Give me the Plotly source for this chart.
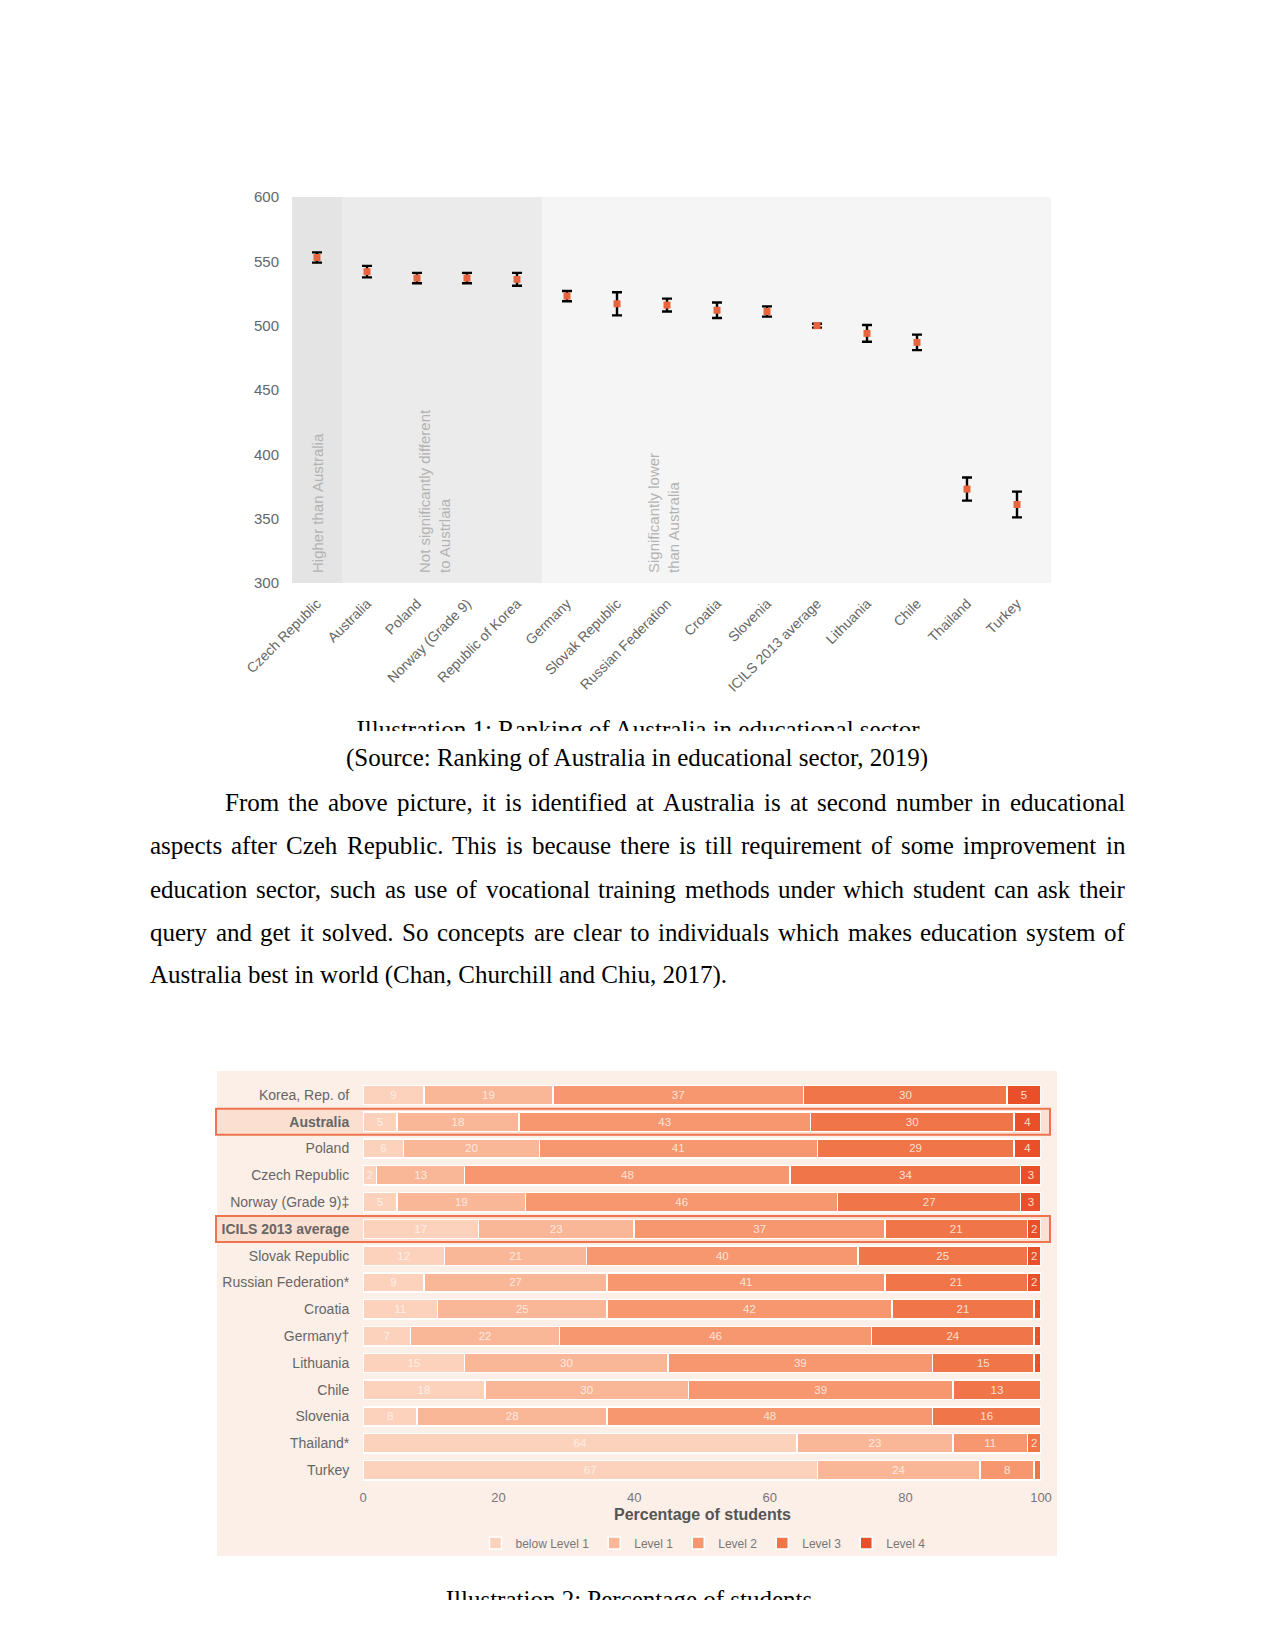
import plotly.graph_objects as go

W, H = 1275, 1651          # page (browser window) size
OFF = 8                    # default body margin of the html page
WF, HF = W - 2 * OFF, H - 2 * OFF   # figure size


def fx(px):
    return (px - OFF) / WF


def fy(py):
    return 1 - (py - OFF) / HF


# ---------------- Chart 1 data ----------------
countries = ["Czech Republic", "Australia", "Poland", "Norway (Grade 9)", "Republic of Korea",
             "Germany", "Slovak Republic", "Russian Federation", "Croatia", "Slovenia",
             "ICILS 2013 average", "Lithuania", "Chile", "Thailand", "Turkey"]
scores = [553, 542, 537, 537, 536, 523, 517, 516, 512, 511, 500, 494, 487, 373, 361]
ci = [4, 4.5, 4, 4, 5, 4, 9, 5, 6, 4, 1.5, 6.5, 6, 9, 10]
y_ticks = [300, 350, 400, 450, 500, 550, 600]

# ---------------- Chart 2 data ----------------
rows = ["Korea, Rep. of", "Australia", "Poland", "Czech Republic", "Norway (Grade 9)‡",
        "ICILS 2013 average", "Slovak Republic", "Russian Federation*", "Croatia", "Germany†",
        "Lithuania", "Chile", "Slovenia", "Thailand*", "Turkey"]
bold_rows = ["Australia", "ICILS 2013 average"]
levels = ["below Level 1", "Level 1", "Level 2", "Level 3", "Level 4"]
below1 = [9, 5, 6, 2, 5, 17, 12, 9, 11, 7, 15, 18, 8, 64, 67]
level1 = [19, 18, 20, 13, 19, 23, 21, 27, 25, 22, 30, 30, 28, 23, 24]
level2 = [37, 43, 41, 48, 46, 37, 40, 41, 42, 46, 39, 39, 48, 11, 8]
level3 = [30, 30, 29, 34, 27, 21, 25, 21, 21, 24, 15, 13, 16, 2, 1]
level4 = [5, 4, 4, 3, 3, 2, 2, 2, 1, 1, 1, 0, 0, 0, 0]
level_values = [below1, level1, level2, level3, level4]
level_colors = ["#fcd2bd", "#f9b797", "#f6976f", "#f07548", "#e9502a"]
x2_ticks = [0, 20, 40, 60, 80, 100]

# ---------------- Document text ----------------
caption1 = "Illustration 1: Ranking of Australia in educational sector"
source1 = "(Source: Ranking of Australia in educational sector, 2019)"
body_lines = [
    "From the above picture, it is identified at Australia is at second number in educational",
    "aspects after Czeh Republic. This is because there is till requirement of some improvement in",
    "education sector, such as use of vocational training methods under which student can ask their",
    "query and get it solved. So concepts are clear to individuals which makes education system of",
    "Australia best in world (Chan, Churchill and Chiu, 2017).",
]
caption2 = "Illustration 2: Percentage of students"

SERIF = "Liberation Serif, Times New Roman, serif"
SANS = "Liberation Sans, Arial, sans-serif"

fig = go.Figure()

# ---- Chart 1 traces ----
fig.add_trace(go.Scatter(
    x=countries, y=scores, mode="markers",
    marker=dict(symbol="square", size=7, color="#e8643c"),
    error_y=dict(type="data", array=ci, color="black", thickness=2.4, width=5),
    xaxis="x", yaxis="y", showlegend=False, cliponaxis=False, hoverinfo="x+y"))

# ---- Chart 2 traces ----
for name, vals, col in zip(levels, level_values, level_colors):
    fig.add_trace(go.Bar(
        x=vals, y=rows, orientation="h", name=name,
        marker=dict(color=col, line=dict(color="white", width=1.5)),
        text=[str(v) if v > 0 else "" for v in vals],
        textposition="inside", insidetextanchor="middle", textangle=0,
        insidetextfont=dict(family=SANS, size=13, color="rgba(255,244,238,0.85)"),
        xaxis="x2", yaxis="y2", hoverinfo="name+x"))

# ---- clipped captions (only their upper half is visible, as in the reference) ----
fig.add_trace(go.Scatter(x=[638], y=[732], mode="text", text=[caption1],
                         textfont=dict(family=SERIF, size=25, color="black"),
                         textposition="middle center", cliponaxis=True,
                         xaxis="x3", yaxis="y3", showlegend=False, hoverinfo="skip"))
fig.add_trace(go.Scatter(x=[629], y=[1602], mode="text", text=[caption2],
                         textfont=dict(family=SERIF, size=25, color="black"),
                         textposition="middle center", cliponaxis=True,
                         xaxis="x4", yaxis="y4", showlegend=False, hoverinfo="skip"))

shapes = []
# chart 1 backgrounds
shapes.append(dict(type="rect", xref="x", yref="y", x0=-0.5, x1=14.68, y0=300, y1=600,
                   fillcolor="#f5f5f5", line=dict(width=0), layer="below"))
shapes.append(dict(type="rect", xref="x", yref="y", x0=-0.5, x1=0.5, y0=300, y1=600,
                   fillcolor="#e4e4e4", line=dict(width=0), layer="below"))
shapes.append(dict(type="rect", xref="x", yref="y", x0=0.5, x1=4.5, y0=300, y1=600,
                   fillcolor="#ebebeb", line=dict(width=0), layer="below"))
# chart 2 panel
shapes.append(dict(type="rect", xref="paper", yref="paper", x0=fx(217), x1=fx(1057),
                   y0=fy(1556), y1=fy(1071), fillcolor="#fcefe7", line=dict(width=0),
                   layer="below"))
# highlight boxes
top2, bot2 = 1081.5, 1483.5
step = (bot2 - top2) / len(rows)
for r in bold_rows:
    i = rows.index(r)
    cy = top2 + (i + 0.5) * step
    shapes.append(dict(type="rect", xref="paper", yref="paper", x0=fx(216), x1=fx(1050),
                       y0=fy(cy + 13), y1=fy(cy - 13), fillcolor="rgba(250,196,170,0.35)",
                       line=dict(color="#ee7450", width=2), layer="below"))

annotations = []
gray_lab = dict(family=SANS, size=15, color="#b3b3b3")
annotations.append(dict(text="Higher than Australia", x=fx(318), y=fy(575), xref="paper",
                        yref="paper", xanchor="center", yanchor="bottom", textangle=-90,
                        showarrow=False, font=gray_lab))
annotations.append(dict(text="Not significantly different<br>to Austrlaia", x=fx(435), y=fy(575),
                        xref="paper", yref="paper", xanchor="center", yanchor="bottom",
                        textangle=-90, align="left", showarrow=False, font=gray_lab))
annotations.append(dict(text="Significantly lower<br>than Australia", x=fx(664), y=fy(575),
                        xref="paper", yref="paper", xanchor="center", yanchor="bottom",
                        textangle=-90, align="left", showarrow=False, font=gray_lab))
annotations.append(dict(text="<b>Percentage of students</b>", x=fx(702), y=fy(1514),
                        xref="paper", yref="paper", xanchor="center", yanchor="middle",
                        showarrow=False, font=dict(family=SANS, size=16, color="#555555")))
annotations.append(dict(text=source1, x=fx(637), y=fy(758), xref="paper", yref="paper",
                        xanchor="center", yanchor="middle", showarrow=False,
                        font=dict(family=SERIF, size=25, color="black")))

# Times / Liberation Serif advance widths (per 1000 em) for justified layout
TW = {' ': 250, ',': 250, '.': 250, '(': 333, ')': 333, ':': 278, '0': 500, '1': 500, '2': 500,
      '7': 500, '9': 500}
TW.update(dict(zip("abcdefghijklmnopqrstuvwxyz",
                   [444, 500, 444, 500, 444, 333, 500, 500, 278, 278, 500, 278, 778, 500, 500,
                    500, 500, 333, 389, 278, 500, 500, 722, 500, 500, 444])))
TW.update(dict(zip("ABCDEFGHIJKLMNOPQRSTUVWXYZ",
                   [722, 667, 667, 722, 611, 556, 722, 722, 333, 389, 722, 611, 889, 722, 722,
                    556, 722, 667, 556, 611, 722, 722, 944, 722, 722, 611])))


def tw(s, size=25):
    return sum(TW.get(c, 500) for c in s) * size / 1000.0


line_y = [802, 845.5, 889, 932, 975]
left, right = 150, 1125
for k, (ln, yy) in enumerate(zip(body_lines, line_y)):
    x0 = 225 if k == 0 else left
    words = ln.split(" ")
    if k < len(body_lines) - 1:
        natural = sum(tw(w) for w in words)
        gap = (right - x0 - natural) / (len(words) - 1)
        xx = x0
        for w in words:
            annotations.append(dict(text=w, x=fx(xx), y=fy(yy), xref="paper", yref="paper",
                                    xanchor="left", yanchor="middle", showarrow=False,
                                    borderpad=0, borderwidth=0,
                                    font=dict(family=SERIF, size=25, color="black")))
            xx += tw(w) + gap
    else:
        annotations.append(dict(text=ln, x=fx(x0), y=fy(yy), xref="paper", yref="paper",
                                xanchor="left", yanchor="middle", showarrow=False,
                                borderpad=0, borderwidth=0,
                                font=dict(family=SERIF, size=25, color="black")))

fig.update_layout(
    width=WF, height=HF, margin=dict(l=0, r=0, t=0, b=0, pad=0, autoexpand=False),
    paper_bgcolor="white", plot_bgcolor="rgba(0,0,0,0)",
    barmode="stack", bargap=0.28,
    shapes=shapes, annotations=annotations,
    showlegend=True,
    legend=dict(orientation="h", x=fx(703), y=fy(1543), xanchor="center", yanchor="middle",
                font=dict(family=SANS, size=12, color="#777777"), bgcolor="rgba(0,0,0,0)",
                traceorder="normal", itemwidth=30),
    xaxis=dict(domain=[fx(292), fx(1051)], anchor="y", type="category",
               categoryorder="array", categoryarray=countries, range=[-0.5, 14.68],
               tickangle=-45, tickfont=dict(family=SANS, size=14, color="#666666"),
               showgrid=False, zeroline=False, showline=False, ticks="outside", ticklen=6,
               tickcolor="rgba(0,0,0,0)", fixedrange=True, automargin=False),
    yaxis=dict(domain=[fy(583), fy(197)], anchor="x", range=[300, 600], tickvals=y_ticks,
               tickfont=dict(family=SANS, size=15, color="#666666"), showgrid=False,
               zeroline=False, showline=False, ticks="outside", ticklen=9,
               tickcolor="rgba(0,0,0,0)", fixedrange=True, automargin=False),
    xaxis2=dict(domain=[fx(363), fx(1041)], anchor="y2", range=[0, 100], tickvals=x2_ticks,
                tickfont=dict(family=SANS, size=13, color="#777777"), showgrid=False,
                zeroline=False, showline=False, ticks="outside", ticklen=2,
                tickcolor="rgba(0,0,0,0)", fixedrange=True, automargin=False),
    yaxis2=dict(domain=[fy(bot2), fy(top2)], anchor="x2", type="category",
                categoryorder="array", categoryarray=rows, autorange="reversed",
                tickvals=rows,
                ticktext=[f"<b>{r}</b>" if r in bold_rows else r for r in rows],
                tickfont=dict(family=SANS, size=14, color="#666666"), showgrid=False,
                zeroline=False, showline=False, ticks="outside", ticklen=10,
                tickcolor="rgba(0,0,0,0)", fixedrange=True, automargin=False),
    xaxis3=dict(domain=[0, 1], anchor="y3", range=[OFF, OFF + WF], visible=False,
                fixedrange=True),
    yaxis3=dict(domain=[fy(731), fy(690)], anchor="x3", range=[731, 690], visible=False,
                fixedrange=True),
    xaxis4=dict(domain=[0, 1], anchor="y4", range=[OFF, OFF + WF], visible=False,
                fixedrange=True),
    yaxis4=dict(domain=[fy(1600), fy(1565)], anchor="x4", range=[1600, 1565], visible=False,
                fixedrange=True),
)

fig.write_html("out.html")
